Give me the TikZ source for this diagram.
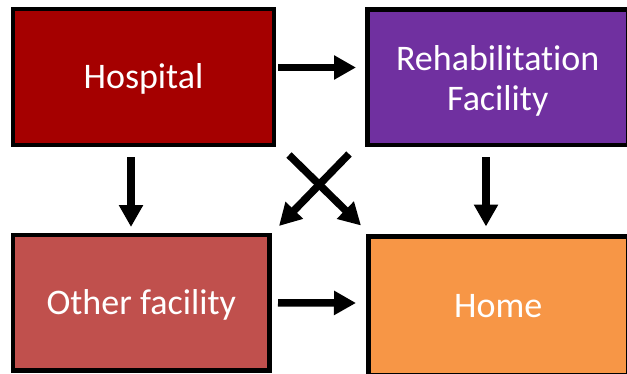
\documentclass[tikz,border=0pt]{standalone}
\usepackage{fontspec}
\setmainfont[Ligatures=NoCommon]{Carlito}
\usetikzlibrary{arrows.meta}
\definecolor{hospred}{HTML}{A50000}
\definecolor{rehabpurple}{HTML}{7030A0}
\definecolor{otherred}{HTML}{C0504D}
\definecolor{homeorange}{HTML}{F79646}
\tikzset{
  place/.style={draw=black, line width=4.5pt, rectangle, outer sep=0pt,
    text=white, align=center, inner sep=0pt,
    font=\fontsize{36}{40}\selectfont},
  oneline/.style={text height=24pt, text depth=0pt},
  flow/.style={line width=7.5pt, -{Triangle[length=22pt,width=23pt]}}
}
\begin{document}
\begin{tikzpicture}[x=1pt,y=1pt]
  \useasboundingbox (0,0) rectangle (627,373);
  \clip (0,0) rectangle (627,373);

  % boxes
  \node[place, oneline, fill=hospred, minimum width=261pt, minimum height=136pt]
    (hosp) at (143.5,296) {Hospital};
  \node[place, fill=rehabpurple, minimum width=260.5pt, minimum height=135.5pt]
    (rehab) at (497.75,295.75) {\rule{0pt}{32pt}Rehabilitation\\Facility};
  \node[place, oneline, fill=otherred, minimum width=256.5pt, minimum height=135.5pt]
    (other) at (141.25,70.25) {Other facility};
  \node[place, oneline, fill=homeorange, minimum width=259.5pt, minimum height=138.5pt]
    (home) at (498.25,67.25) {Home};

  % transitions
  \draw[flow] ([xshift=4pt,yshift=9.5pt]hosp.east)
    -- ([xshift=-11.5pt,yshift=9.75pt]rehab.west);
  \draw[flow] ([xshift=8.5pt]other.east)
    -- ([xshift=-12.5pt,yshift=2.75pt]home.west);
  \draw[flow] ([xshift=-12.5pt,yshift=-12pt]hosp.south)
    -- ([xshift=-10.25pt,yshift=8pt]other.north);
  \draw[flow] ([xshift=-11.75pt,yshift=-12pt]rehab.south)
    -- ([xshift=-12.25pt,yshift=10pt]home.north);
  \draw[flow] ([xshift=-18.5pt,yshift=-9pt]rehab.south west)
    -- ([xshift=9.5pt,yshift=9pt]other.north east);
  \draw[flow] ([xshift=15pt,yshift=-10pt]hosp.south east)
    -- ([xshift=-7.5pt,yshift=11pt]home.north west);
\end{tikzpicture}
\end{document}
